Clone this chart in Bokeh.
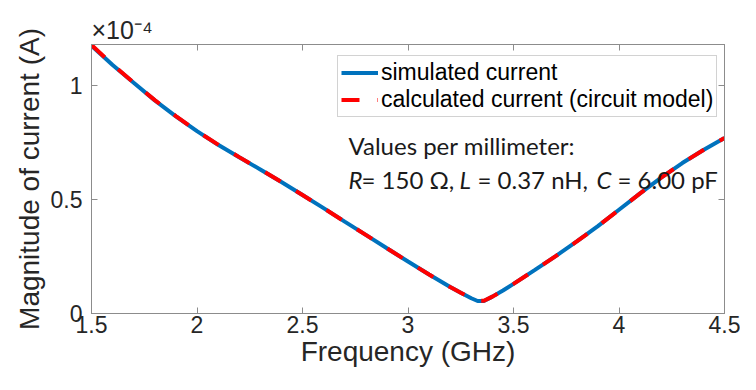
from bokeh.plotting import figure
from bokeh.models import Range1d, FixedTicker, LinearAxis, Label, Legend, LegendItem
from bokeh.embed import file_html
from bokeh.resources import INLINE

# ---- data (current magnitude in units of 1e-4 A) ----
freq_ghz = [1.5, 1.6, 1.7, 1.8, 1.9, 2.0, 2.1, 2.2, 2.3, 2.4, 2.5, 2.6, 2.7, 2.8, 2.9,
            3.0, 3.1, 3.2, 3.25, 3.3, 3.33, 3.36, 3.4, 3.45, 3.5, 3.6, 3.7, 3.8, 3.9,
            4.0, 4.1, 4.2, 4.3, 4.4, 4.5]
simulated_current = [1.175, 1.09, 1.012, 0.935, 0.865, 0.80, 0.74, 0.685, 0.632, 0.577,
                     0.52, 0.462, 0.403, 0.345, 0.286, 0.228, 0.171, 0.116, 0.091, 0.067,
                     0.055, 0.055, 0.074, 0.101, 0.13, 0.19, 0.252, 0.316, 0.383,
                     0.455, 0.527, 0.596, 0.66, 0.717, 0.77]
calculated_current = [1.178, 1.092, 1.013, 0.936, 0.866, 0.80, 0.741, 0.686, 0.632, 0.577,
                      0.52, 0.462, 0.403, 0.345, 0.286, 0.228, 0.171, 0.116, 0.091, 0.067,
                      0.056, 0.056, 0.074, 0.101, 0.13, 0.19, 0.252, 0.316, 0.383,
                      0.455, 0.527, 0.596, 0.66, 0.717, 0.77]
x_ticks = [1.5, 2.0, 2.5, 3.0, 3.5, 4.0, 4.5]
x_tick_labels = ["1.5", "2", "2.5", "3", "3.5", "4", "4.5"]
y_ticks = [0.0, 0.5, 1.0]
y_tick_labels = ["0", "0.5", "1"]

AX = "#262626"
FRAME = "#8c8c8c"
FONT = "Liberation Sans"

p = figure(width=740, height=374, output_backend="svg", toolbar_location=None,
           x_range=Range1d(1.5, 4.5), y_range=Range1d(0, 1.18),
           min_border_left=91, min_border_right=16, min_border_top=44, min_border_bottom=61)
p.background_fill_color = "white"
p.border_fill_color = "white"
p.outline_line_color = FRAME
p.outline_line_width = 1
p.xgrid.visible = False
p.ygrid.visible = False

p.title.text = "×10⁻⁴"
p.title.align = "left"
p.title.text_font = FONT
p.title.text_font_size = "25px"
p.title.text_font_style = "normal"
p.title.text_color = AX
p.title.standoff = 2
p.title.offset = 0

def style_axis(ax, ticks, labels, show_labels=True):
    ax.ticker = FixedTicker(ticks=ticks)
    ax.major_label_overrides = {t: (l if show_labels else "") for t, l in zip(ticks, labels)}
    ax.minor_tick_line_color = None
    ax.major_tick_in = 6
    ax.major_tick_out = 0
    ax.major_tick_line_color = FRAME
    ax.axis_line_color = FRAME
    ax.major_label_text_font = FONT
    ax.major_label_text_color = AX
    ax.major_label_text_font_size = "23px" if show_labels else "0px"

style_axis(p.xaxis[0], x_ticks, x_tick_labels)
style_axis(p.yaxis[0], y_ticks, y_tick_labels)
p.xaxis[0].major_label_standoff = 2
p.yaxis[0].major_label_standoff = 9
p.xaxis[0].axis_label = "Frequency (GHz)"
p.yaxis[0].axis_label = "Magnitude of current (A)"
for ax in (p.xaxis[0], p.yaxis[0]):
    ax.axis_label_text_font = FONT
    ax.axis_label_text_font_size = "28px"
    ax.axis_label_text_font_style = "normal"
    ax.axis_label_text_color = AX
p.xaxis[0].axis_label_standoff = 0
p.yaxis[0].axis_label_standoff = 3

top_ax = LinearAxis()
style_axis(top_ax, x_ticks, x_tick_labels, show_labels=False)
top_ax.major_label_standoff = 0
p.add_layout(top_ax, "above")
right_ax = LinearAxis()
style_axis(right_ax, y_ticks, y_tick_labels, show_labels=False)
right_ax.major_label_standoff = 0
p.add_layout(right_ax, "right")

r_sim = p.line(freq_ghz, simulated_current, line_color="#0072BD", line_width=4)
r_calc = p.line(freq_ghz, calculated_current, line_color="#FF0000", line_width=4,
                line_dash="18 18")

legend = Legend(items=[LegendItem(label="simulated current", renderers=[r_sim]),
                       LegendItem(label="calculated current (circuit model)", renderers=[r_calc])],
                location=(246, 196))
legend.label_text_font = FONT
legend.label_text_font_size = "23px"
legend.label_text_color = "black"
legend.glyph_width = 37
legend.glyph_height = 27
legend.label_height = 27
legend.label_standoff = 3
legend.spacing = 0
legend.padding = 3
legend.margin = 0
legend.border_line_color = "#a6a6a6"
legend.border_line_width = 1
legend.background_fill_color = "white"
legend.background_fill_alpha = 1
p.add_layout(legend, "center")

# annotation text
TF = "Lato"
TS = "24px"
TC = "#1a1a1a"
p.add_layout(Label(x=257, y=168, x_units="screen", y_units="screen",
                   text="Values per millimeter:", text_font=TF, text_font_size=TS,
                   text_color=TC, text_baseline="alphabetic"))
segments = [(257, "R", "italic"), (270, "= 150 Ω,", "normal"),
            (368, "L", "italic"), (386, "= 0.37 nH,", "normal"),
            (505, "C", "italic"), (526, "= 6.00 pF", "normal")]
for sx, txt, style in segments:
    p.add_layout(Label(x=sx, y=134, x_units="screen", y_units="screen", text=txt,
                       text_font=TF, text_font_size=TS, text_font_style=style,
                       text_color=TC, text_baseline="alphabetic"))

open("out.html", "w").write(file_html(p, INLINE))
